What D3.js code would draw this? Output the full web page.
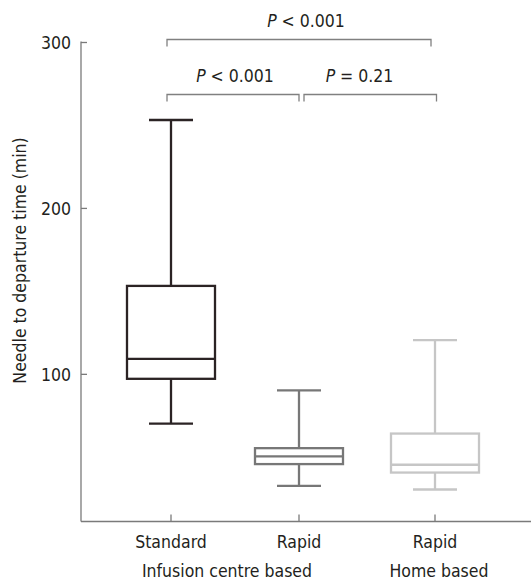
<!DOCTYPE html>
<html>
<head>
<meta charset="utf-8">
<script src="https://cdn.jsdelivr.net/npm/d3@7"></script>
<style>
  body { margin: 0; background: #fff; }
  text { font-family: "DejaVu Sans Condensed", "DejaVu Sans", sans-serif; font-stretch: condensed; fill: #231f20; }
</style>
</head>
<body>
<div id="chart"></div>
<script>
// box plot values (min)
var boxKeys = ["std", "rapidCentre", "rapidHome"];
var tickLabels = ["Standard", "Rapid", "Rapid"];
var whiskerLow = [70, 32.5, 30.3];
var q1 = [97, 45.6, 40.5];
var median = [109, 50.2, 45.2];
var q3 = [153, 55.2, 64];
var whiskerHigh = [253, 90, 120.3];
var boxColors = ["#2b2324", "#777777", "#c6c6c6"];

var groupLabels = ["Infusion centre based", "Home based"];
var yTicks = [100, 200, 300];

// significance brackets
var compFrom = [0, 0, 1];
var compTo = [2, 1, 2];
var compSign = ["<", "<", "="];
var compValue = ["0.001", "0.001", "0.21"];

var svgWidth = 531;
var svgHeight = 580;
var fontSize = "17.5px";

var svg = d3.select("#chart")
  .append("svg")
  .attr("width", svgWidth)
  .attr("height", svgHeight);

var x = d3.scaleOrdinal()
  .domain(boxKeys)
  .range([171, 299, 435]);

var y = d3.scaleLinear()
  .domain([11, 300])
  .range([521.5, 42]);

var axisColor = "#7a7a7a";

// y axis
var yAxis = svg.append("g")
  .attr("transform", "translate(81,0)")
  .call(d3.axisRight(y).tickValues(yTicks).tickSize(6).tickFormat(d3.format("d")));
yAxis.select(".domain").remove();
yAxis.selectAll(".tick line").attr("stroke", axisColor).attr("stroke-width", 1.3);
yAxis.selectAll(".tick text")
  .attr("x", -10)
  .attr("text-anchor", "end")
  .attr("dy", "0.36em")
  .style("font-size", fontSize);
svg.append("line")
  .attr("x1", 81).attr("x2", 81)
  .attr("y1", y(300) - 0.6).attr("y2", y(11))
  .attr("stroke", axisColor).attr("stroke-width", 1.3);

// x axis
svg.append("line")
  .attr("x1", 81).attr("x2", svgWidth)
  .attr("y1", y(11)).attr("y2", y(11))
  .attr("stroke", axisColor).attr("stroke-width", 1.3);

svg.selectAll(".xtick")
  .data(boxKeys)
  .enter()
  .append("line")
  .attr("x1", d => x(d)).attr("x2", d => x(d))
  .attr("y1", y(11)).attr("y2", y(11) - 7)
  .attr("stroke", axisColor).attr("stroke-width", 1.3);

svg.selectAll(".xlabel")
  .data(boxKeys)
  .enter()
  .append("text")
  .attr("x", d => x(d))
  .attr("y", 547.5)
  .attr("text-anchor", "middle")
  .style("font-size", fontSize)
  .text((d, i) => tickLabels[i]);

svg.append("text")
  .attr("x", (x(boxKeys[0]) + x(boxKeys[1])) / 2 - 8)
  .attr("y", 576.5)
  .attr("text-anchor", "middle")
  .style("font-size", fontSize)
  .text(groupLabels[0]);

svg.append("text")
  .attr("x", x(boxKeys[2]) + 4)
  .attr("y", 576.5)
  .attr("text-anchor", "middle")
  .style("font-size", fontSize)
  .text(groupLabels[1]);

// y axis title
svg.append("text")
  .attr("transform", "translate(25.5,260.5) rotate(-90)")
  .attr("text-anchor", "middle")
  .style("font-size", fontSize)
  .text("Needle to departure time (min)");

// boxes
var boxWidth = 88;
var capWidth = 44;
var boxes = svg.selectAll(".box")
  .data(boxKeys)
  .enter()
  .append("g")
  .attr("stroke", (d, i) => boxColors[i])
  .attr("stroke-width", 2.3)
  .attr("fill", "none");

boxes.append("line")
  .attr("x1", d => x(d)).attr("x2", d => x(d))
  .attr("y1", (d, i) => y(whiskerHigh[i])).attr("y2", (d, i) => y(q3[i]));
boxes.append("line")
  .attr("x1", d => x(d)).attr("x2", d => x(d))
  .attr("y1", (d, i) => y(q1[i])).attr("y2", (d, i) => y(whiskerLow[i]));
boxes.append("line")
  .attr("x1", d => x(d) - capWidth / 2).attr("x2", d => x(d) + capWidth / 2)
  .attr("y1", (d, i) => y(whiskerHigh[i])).attr("y2", (d, i) => y(whiskerHigh[i]));
boxes.append("line")
  .attr("x1", d => x(d) - capWidth / 2).attr("x2", d => x(d) + capWidth / 2)
  .attr("y1", (d, i) => y(whiskerLow[i])).attr("y2", (d, i) => y(whiskerLow[i]));
boxes.append("rect")
  .attr("x", d => x(d) - boxWidth / 2)
  .attr("width", boxWidth)
  .attr("y", (d, i) => y(q3[i]))
  .attr("height", (d, i) => y(q1[i]) - y(q3[i]));
boxes.append("line")
  .attr("x1", d => x(d) - boxWidth / 2).attr("x2", d => x(d) + boxWidth / 2)
  .attr("y1", (d, i) => y(median[i])).attr("y2", (d, i) => y(median[i]));

// significance brackets
var bracketY = [39.5, 94.5, 94.5];
var bracketX1 = compFrom.map((f, i) => x(boxKeys[f]) + (i === 2 ? 5 : -4));
var bracketX2 = compTo.map((t, i) => x(boxKeys[t]) + (i === 0 ? -4 : (i === 2 ? 1.5 : 0)));
var brackets = svg.selectAll(".bracket")
  .data(compFrom)
  .enter()
  .append("path")
  .attr("d", (d, i) => "M" + bracketX1[i] + "," + (bracketY[i] + 7) +
    "V" + bracketY[i] + "H" + bracketX2[i] + "V" + (bracketY[i] + 7))
  .attr("fill", "none")
  .attr("stroke", "#808080")
  .attr("stroke-width", 1.3);

var pText = svg.selectAll(".ptext")
  .data(compFrom)
  .enter()
  .append("text")
  .attr("x", (d, i) => i === 1 ? 235 : (i === 2 ? 359.5 : 306))
  .attr("y", (d, i) => bracketY[i] - 12.5)
  .attr("text-anchor", "middle")
  .style("font-size", fontSize);
pText.append("tspan").style("font-style", "italic").text("P");
pText.append("tspan").text((d, i) => " " + compSign[i] + " " + compValue[i]);
</script>
</body>
</html>
